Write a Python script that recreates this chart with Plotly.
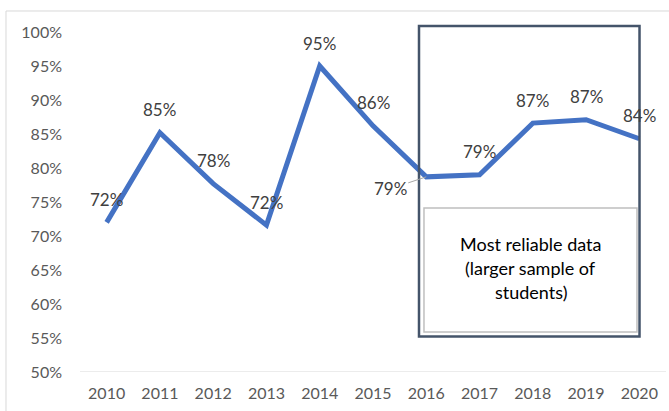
import plotly.graph_objects as go

# Yearly rate series
years = ["2010", "2011", "2012", "2013", "2014", "2015", "2016", "2017", "2018", "2019", "2020"]
rates = [0.72, 0.852, 0.777, 0.716, 0.95, 0.862, 0.787, 0.79, 0.866, 0.871, 0.843]

# Axis ticks
y_ticks = [0.50, 0.55, 0.60, 0.65, 0.70, 0.75, 0.80, 0.85, 0.90, 0.95, 1.00]
y_tick_text = [f"{round(v * 100)}%" for v in y_ticks]

# Callout text
note_lines = ["Most reliable data", "(larger sample of", "students)"]

FONT = "Lato"
LINE_BLUE = "#4472C4"
LABEL_GREY = "#404040"
TICK_GREY = "#595959"

x_idx = list(range(len(years)))

fig = go.Figure()
fig.add_trace(go.Scatter(
    x=x_idx, y=rates, mode="lines",
    line=dict(color=LINE_BLUE, width=5),
    hoverinfo="skip", showlegend=False,
))

# Data labels (2016 label sits to the left with a leader line)
for i, v in enumerate(rates):
    txt = f"{round(v * 100)}%"
    if years[i] == "2016":
        fig.add_annotation(
            x=i, y=v, xref="x", yref="y", text=txt,
            showarrow=True, ax=-36, ay=12, arrowhead=0, arrowwidth=1,
            arrowcolor="#A6A6A6", standoff=0, startstandoff=0,
            font=dict(family=FONT, size=17, color=LABEL_GREY),
        )
    else:
        fig.add_annotation(
            x=i, y=v, xref="x", yref="y", text=txt, showarrow=False,
            yshift=23, font=dict(family=FONT, size=17, color=LABEL_GREY),
        )

# Outer chart-area border (top and left edges fall inside the canvas)
fig.add_shape(type="line", xref="paper", yref="paper",
              x0=-0.1263, x1=1.3, y0=1.0618, y1=1.0618,
              line=dict(color="#D9D9D9", width=1), layer="below")
fig.add_shape(type="line", xref="paper", yref="paper",
              x0=-0.1263, x1=-0.1263, y0=-0.5, y1=1.0618,
              line=dict(color="#D9D9D9", width=1), layer="below")

# Highlight frame around the recent years
fig.add_shape(type="rect", xref="paper", yref="paper",
              x0=0.5785, x1=0.9548, y0=0.1044, y1=1.0176,
              line=dict(color="#44546A", width=2.5), layer="above")

# Inner note box
fig.add_shape(type="rect", xref="paper", yref="paper",
              x0=0.587, x1=0.9505, y0=0.1176, y1=0.4824,
              line=dict(color="#BFBFBF", width=1.5),
              fillcolor="white", layer="above")

note_y = [0.376, 0.306, 0.235]
for line_txt, yy in zip(note_lines, note_y):
    fig.add_annotation(x=0.769, y=yy, xref="paper", yref="paper",
                       xanchor="center", yanchor="middle",
                       text=line_txt, showarrow=False,
                       font=dict(family=FONT, size=18, color="#000000"))

fig.update_layout(
    width=669, height=411,
    margin=dict(l=80, r=3, t=32, b=39),
    paper_bgcolor="white", plot_bgcolor="white",
    font=dict(family=FONT, size=16, color=TICK_GREY),
    xaxis=dict(
        range=[-0.5, len(years) - 0.5],
        tickmode="array", tickvals=x_idx, ticktext=years,
        showgrid=False, zeroline=False, showline=False, ticks="",
        ticklabelstandoff=10,
        tickfont=dict(family=FONT, size=16, color=TICK_GREY),
        fixedrange=True,
    ),
    yaxis=dict(
        range=[0.5, 1.0],
        tickmode="array", tickvals=y_ticks, ticktext=y_tick_text,
        showgrid=False, zeroline=False, ticks="",
        showline=False, ticklabelstandoff=17,
        tickfont=dict(family=FONT, size=16, color=TICK_GREY),
        fixedrange=True,
    ),
    showlegend=False,
)

# Baseline at 50%
fig.add_shape(type="line", xref="paper", yref="y", x0=0, x1=1,
              y0=0.5, y1=0.5, line=dict(color="#D9D9D9", width=1),
              layer="below")

fig.write_html("out.html")
